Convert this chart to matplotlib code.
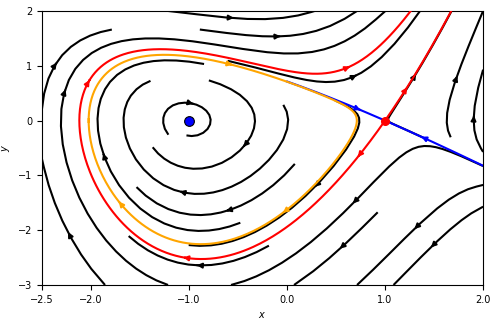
import numpy as np
import matplotlib

matplotlib.use("Agg")
import matplotlib.pyplot as plt
from matplotlib.patches import FancyArrowPatch

# Bogdanov-Takens normal form: x' = y, y' = b1 + b2*y + x^2 + s*x*y
BETA1 = -1.0
BETA2 = 0.78
S = 1.0
X_RANGE = (-2.5, 2.0)
Y_RANGE = (-3.0, 2.0)
X_TICKS = [-2.5, -2.0, -1.0, 0.0, 1.0, 2.0]
Y_TICKS = [-3, -2, -1, 0, 1, 2]
FOCUS = (-1.0, 0.0)
SADDLE = (1.0, 0.0)

# where the direction arrows sit, as fractions of each curve's length
ARROWS_RED_LOW = [0.06, 0.30, 0.62, 0.89]
ARROWS_RED_HIGH = [0.28]
ARROWS_CYCLE = [0.24, 0.60, 0.83]
ARROWS_BLUE_UL = [0.74]
ARROWS_BLUE_LR = [0.63]


def field(x, y):
    return y, BETA1 + BETA2 * y + x ** 2 + S * x * y


def rk4(p0, t_end, dt=0.01, box=(-6, 6, -8, 8)):
    h = dt if t_end > 0 else -dt
    n = int(abs(t_end) / dt)
    out = np.empty((n + 1, 2)); out[0] = p0
    p = np.array(p0, dtype=float)
    f = lambda q: np.array(field(q[0], q[1]))
    for i in range(n):
        k1 = f(p); k2 = f(p + h / 2 * k1); k3 = f(p + h / 2 * k2); k4 = f(p + h * k3)
        p = p + h / 6 * (k1 + 2 * k2 + 2 * k3 + k4)
        out[i + 1] = p
        if not (box[0] <= p[0] <= box[1] and box[2] <= p[1] <= box[3]):
            return out[:i + 2]
    return out


def limit_cycle():
    """unstable cycle: run backwards in time until it settles, keep one turn"""
    tr = rk4((-1.4, 0.0), -60, dt=0.02)
    tr2 = rk4(tr[-1], -30)
    x, y = tr2[:, 0], tr2[:, 1]
    idx = np.where(((y[:-1] < 0) != (y[1:] < 0)) & (x[:-1] < -1))[0]
    return tr2[idx[0]:idx[1] + 2][::-1]


def saddle_dirs():
    J = np.array([[0.0, 1.0], [2 * SADDLE[0] + S * SADDLE[1], BETA2 + S * SADDLE[0]]])
    w, v = np.linalg.eig(J)
    iu, is_ = np.argmax(w), np.argmin(w)
    return v[:, iu] * np.sign(v[0, iu]), v[:, is_] * np.sign(v[0, is_])


def add_arrows(ax, path, fracs, color, lw=1.5):
    seg = np.hypot(*np.diff(path, axis=0).T)
    s = np.concatenate([[0], np.cumsum(seg)])
    for f in fracs:
        i = min(np.searchsorted(s, f * s[-1]), len(path) - 3)
        ax.add_patch(FancyArrowPatch(path[i], path[i + 2], arrowstyle="-|>",
                                     mutation_scale=7, lw=lw, color=color, zorder=4))


fig = plt.figure(figsize=(4.97, 3.22), dpi=100)
ax = fig.add_axes([0.0845, 0.115, 0.8875, 0.851])

gx = np.linspace(*X_RANGE, 200)
gy = np.linspace(*Y_RANGE, 200)
X, Y = np.meshgrid(gx, gy)
U, V = field(X, Y)
ax.streamplot(X, Y, U, V, color="black", density=0.5, linewidth=1.5, arrowsize=0.7,
              minlength=0.3)

frame = (X_RANGE[0], X_RANGE[1], Y_RANGE[0], Y_RANGE[1])
vu, vs = saddle_dirs()
p_sad = np.array(SADDLE)
red_low = rk4(p_sad - 1e-4 * vu, 30, box=frame)
red_high = rk4(p_sad + 1e-4 * vu, 30, box=frame)
blue_ul = rk4(p_sad - 1e-4 * vs, -12.2, box=frame)[::-1]
blue_lr = rk4(p_sad + 1e-4 * vs, -16, box=frame)[::-1]
cycle = limit_cycle()

for p, fr in ((blue_ul, ARROWS_BLUE_UL), (blue_lr, ARROWS_BLUE_LR)):
    ax.plot(p[:, 0], p[:, 1], color="blue", lw=1.5, zorder=3)
    add_arrows(ax, p, fr, "blue")
ax.plot(cycle[:, 0], cycle[:, 1], color="orange", lw=1.5, zorder=3)
add_arrows(ax, cycle, ARROWS_CYCLE, "orange")
for p, fr in ((red_low, ARROWS_RED_LOW), (red_high, ARROWS_RED_HIGH)):
    ax.plot(p[:, 0], p[:, 1], color="red", lw=1.5, zorder=3)
    add_arrows(ax, p, fr, "red")

ax.plot(*FOCUS, "o", color="blue", mec="black", mew=0.8, ms=7, zorder=5)
ax.plot(*SADDLE, "o", color="red", ms=5.5, zorder=5)

ax.set_xlim(*X_RANGE); ax.set_ylim(*Y_RANGE)
ax.set_xticks(X_TICKS); ax.set_yticks(Y_TICKS)
ax.tick_params(labelsize=7)
ax.set_xlabel("$x$", fontsize=7)
ax.set_ylabel("$y$", fontsize=7)
fig.savefig("out.png", dpi=100)
